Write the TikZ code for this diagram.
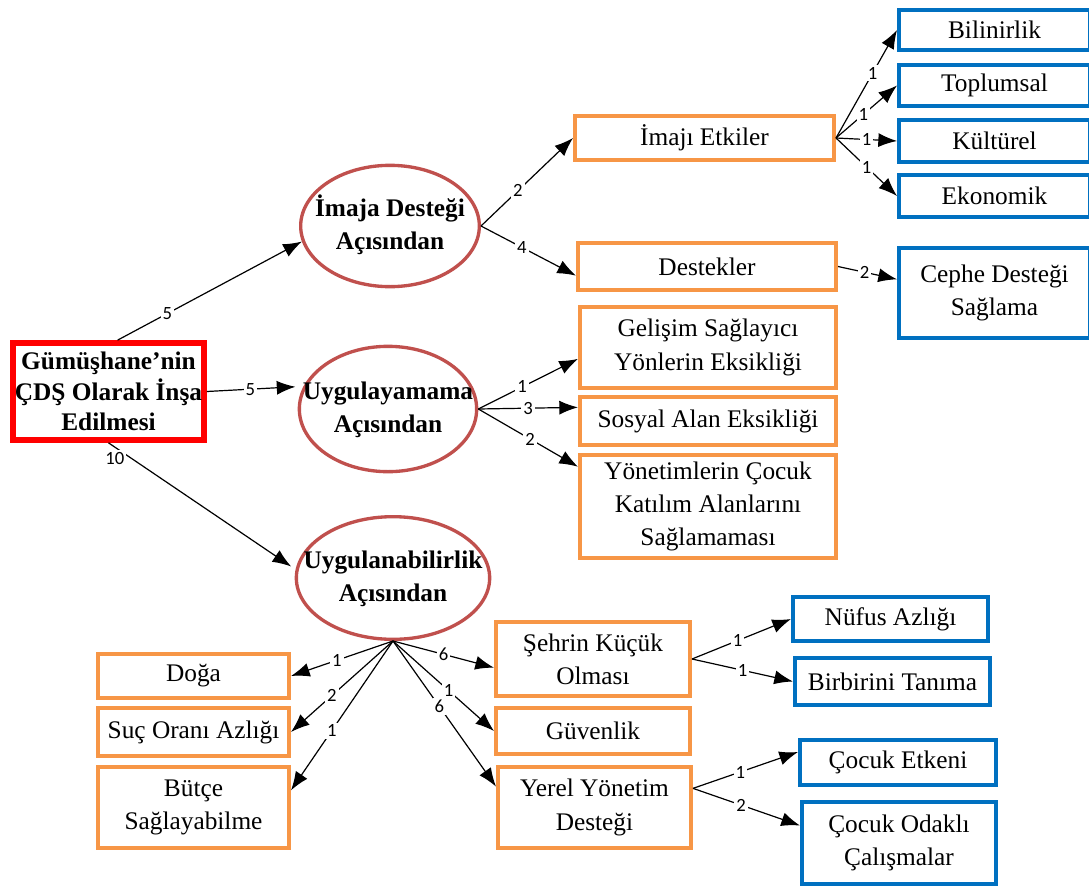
\documentclass[tikz,border=0pt]{standalone}
\usepackage{fontspec}
\setmainfont{Liberation Serif}
\newfontfamily\digitfont{Carlito}
\usetikzlibrary{shapes.geometric,arrows.meta}
\definecolor{boxorange}{RGB}{247,150,70}
\definecolor{boxblue}{RGB}{0,112,192}
\definecolor{ovalred}{RGB}{192,80,77}
\newcommand\boxfnt{\fontsize{19}{25}\selectfont}
\newcommand\ovaltxt[1]{\makebox[0pt]{\begin{tabular}{@{}c@{}}#1\end{tabular}}}
\tikzstyle{obox}=[draw=boxorange, line width=3pt, fill=white, align=center, font=\boxfnt, inner sep=1pt]
\tikzstyle{bbox}=[obox, draw=boxblue]
\tikzstyle{mainbox}=[obox, draw=red, line width=4.5pt, font=\fontsize{19}{23}\selectfont\bfseries]
\tikzstyle{oval}=[ellipse, draw=ovalred, line width=2.5pt, fill=white, font=\boxfnt\bfseries, inner sep=0pt]
\tikzstyle{num}=[fill=white, inner sep=1.5pt, font=\digitfont\fontsize{14}{14}\selectfont]
\tikzstyle{arr}=[-{Latex[length=14pt,width=10.5pt]}, line width=0.9pt]
\tikzset{wh/.style 2 args={minimum width=#1*0.75pt-3pt, minimum height=#2*0.75pt-3pt}}

\begin{document}
\begin{tikzpicture}[x=0.75pt,y=-0.75pt]
\useasboundingbox (0,0) rectangle (1089,889);
% root and the three ovals
\node[mainbox, minimum width=143pt, minimum height=72.5pt] (m) at (108.5,391.5) {Gümüşhane’nin\\ÇDŞ Olarak İnşa\\Edilmesi};
\node[oval, minimum width=134pt, minimum height=91pt] (e1) at (390,226) {\ovaltxt{İmaja Desteği\\Açısından}};
\node[oval, minimum width=133pt, minimum height=94pt] (e2) at (388,409) {\ovaltxt{Uygulayamama\\Açısından}};
\node[oval, minimum width=145pt, minimum height=92pt] (e3) at (393,578) {\ovaltxt{Uygulanabilirlik\\Açısından}};
% second level
\node[obox, wh={263}{48}] (o1) at (704.5,138) {İmajı Etkiler};
\node[obox, wh={262}{51}] (o2) at (707,266.5) {Destekler};
\node[obox, wh={260}{85}] (o3) at (708,347.5) {Gelişim Sağlayıcı\\Yönlerin Eksikliği};
\node[obox, wh={260}{52}] (o4) at (708,421) {Sosyal Alan Eksikliği};
\node[obox, wh={260}{107}] (o5) at (708,506.5) {Yönetimlerin Çocuk\\Katılım Alanlarını\\Sağlamaması};
\node[obox, wh={195}{48}] (d1) at (193.5,676) {Doğa};
\node[obox, wh={195}{52}] (d2) at (193.5,732) {Suç Oranı Azlığı};
\node[obox, wh={195}{85}] (d3) at (193.5,807.5) {Bütçe\\Sağlayabilme};
\node[obox, wh={198}{78}] (s1) at (593,659) {Şehrin Küçük\\Olması};
\node[obox, wh={198}{50}] (s2) at (593,731) {Güvenlik};
\node[obox, wh={197}{85}] (s3) at (594.5,807.5) {Yerel Yönetim\\Desteği};
% third level
\node[bbox, wh={195}{44}] (b1) at (994.5,30) {Bilinirlik};
\node[bbox, wh={195}{45}] (b2) at (994.5,85.5) {Toplumsal};
\node[bbox, wh={195}{46}] (b3) at (994.5,141) {Kültürel};
\node[bbox, wh={195}{46}] (b4) at (994.5,196) {Ekonomik};
\node[bbox, wh={195}{94}] (b5) at (994.5,293) {Cephe Desteği\\Sağlama};
\node[bbox, wh={199}{48}] (n1) at (890.5,619) {Nüfus Azlığı};
\node[bbox, wh={199}{51}] (n2) at (892.5,681.5) {Birbirini Tanıma};
\node[bbox, wh={200}{49}] (c1) at (898,762.5) {Çocuk Etkeni};
\node[bbox, wh={198}{86}] (c2) at (899,843) {Çocuk Odaklı\\Çalışmalar};
% connectors
\draw (m.80) edge[arr] node[num,pos=.27]{5} (e1.190);
\draw (m.east) edge[arr, shorten >=6pt] node[num,pos=.45]{5} (e2.165);
\draw (m.south) edge[arr, shorten >=4pt] node[num,pos=.12,left=3pt]{10} (e3.175);
\draw (e1.east) edge[arr] node[num,pos=.4]{2} (o1.west);
\draw (e1.east) edge[arr] node[num,pos=.43]{4} (o2.184);
\draw (o1.east) edge[arr] node[num,pos=.6]{1} (b1.west);
\draw (o1.east) edge[arr] node[num,pos=.45]{1} (b2.west);
\draw (o1.east) edge[arr] node[num,pos=.5]{1} (b3.west);
\draw (o1.east) edge[arr] node[num,pos=.5]{1} (b4.west);
\draw (o2.east) edge[arr] node[num,pos=.45]{2} (b5.172);
\draw (e2.east) edge[arr] node[num,pos=.44]{1} (o3.185);
\draw (e2.east) edge[arr] node[num,pos=.5]{3} (o4.174);
\draw (e2.east) edge[arr] node[num,pos=.52]{2} (o5.163);
\draw (e3.south) edge[arr] node[num,pos=.55]{1} (d1.east);
\draw (e3.south) edge[arr] node[num,pos=.6]{2} (d2.east);
\draw (e3.south) edge[arr] node[num,pos=.6]{1} (d3.10);
\draw (e3.south) edge[arr] node[num,pos=.5]{6} (s1.185);
\draw (e3.south) edge[arr] node[num,pos=.55]{1} (s2.west);
\draw (e3.south) edge[arr] node[num,pos=.45]{6} (s3.168);
\draw (s1.east) edge[arr] node[num,pos=.46]{1} (n1.west);
\draw (s1.east) edge[arr] node[num,pos=.5]{1} (n2.west);
\draw (s3.11) edge[arr] node[num,pos=.45]{1} (c1.174);
\draw (s3.11) edge[arr] node[num,pos=.45]{2} (c2.170);
\end{tikzpicture}
\end{document}
